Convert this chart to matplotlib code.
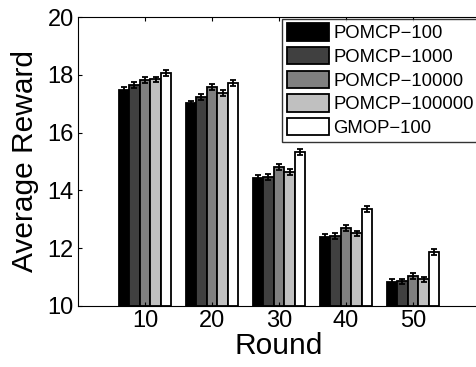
import matplotlib
matplotlib.use("Agg")
import matplotlib.pyplot as plt
import numpy as np

plt.rcParams['font.family'] = ['Liberation Sans', 'DejaVu Sans']

rounds = ['10', '20', '30', '40', '50']
series = ['POMCP\u2212100', 'POMCP\u22121000', 'POMCP\u221210000',
          'POMCP\u2212100000', 'GMOP\u2212100']
colors = ['#000000', '#404040', '#808080', '#c0c0c0', '#ffffff']

pomcp_100 = [17.47, 17.01, 14.42, 12.40, 10.84]
pomcp_1000 = [17.65, 17.24, 14.47, 12.42, 10.85]
pomcp_10000 = [17.82, 17.57, 14.82, 12.69, 11.04]
pomcp_100000 = [17.84, 17.38, 14.65, 12.51, 10.92]
gmop_100 = [18.07, 17.71, 15.34, 13.35, 11.88]
errors = [0.1, 0.1, 0.1, 0.1, 0.1]

values = [pomcp_100, pomcp_1000, pomcp_10000, pomcp_100000, gmop_100]

fig = plt.figure(figsize=(4.77, 3.67), dpi=100)
ax = fig.add_axes([78 / 477, 61 / 367, 402 / 477, 289 / 367])

x = np.arange(1, len(rounds) + 1)
w = 0.157
for i, (vals, c, name) in enumerate(zip(values, colors, series)):
    pos = x + (i - 2) * w
    ax.bar(pos, np.array(vals) - 10, width=w, bottom=10, color=c,
           edgecolor='black', linewidth=1.3, label=name)
    ax.errorbar(pos, vals, yerr=errors, fmt='none', ecolor='black',
                elinewidth=1.3, capsize=2.5, capthick=1.3)

ax.set_xlim(0, 6)
ax.set_ylim(10, 20)
ax.set_xticks(x)
ax.set_xticklabels(rounds)
ax.set_yticks([10, 12, 14, 16, 18, 20])
ax.tick_params(direction='in', labelsize=17, length=3, pad=3,
               top=True, right=True)
ax.set_xlabel('Round', fontsize=21.5, labelpad=0)
ax.set_ylabel('Average Reward', fontsize=21.5, labelpad=6)

leg = ax.legend(loc='upper right', fontsize=13.3, frameon=True, fancybox=False,
                borderpad=0.25, labelspacing=0.26, handlelength=2.3,
                handleheight=1.05, handletextpad=0.2, borderaxespad=0.1)
leg.get_frame().set_edgecolor('black')
leg.get_frame().set_linewidth(1.0)

fig.savefig('out.png', dpi=100)
